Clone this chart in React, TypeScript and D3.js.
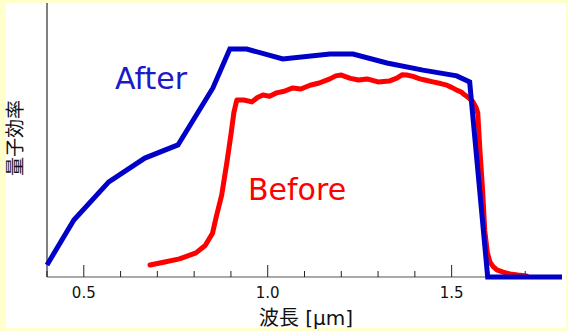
import React from 'react';
import * as d3 from 'd3';

// wavelength [um] / quantum efficiency (arbitrary %)
const afterX = [0.4, 0.473, 0.568, 0.666, 0.756, 0.851, 0.897, 0.943, 1.041, 1.169, 1.232, 1.324, 1.422, 1.514, 1.549, 1.598, 1.8];
const afterY = [4.4, 20.8, 34.7, 43.4, 48.2, 69, 83.2, 83.2, 79.6, 81.4, 81.4, 78.1, 75.5, 73.4, 71.2, 0, 0];

const beforeX = [0.68, 0.72, 0.76, 0.805, 0.83, 0.85, 0.86, 0.875, 0.89, 0.9, 0.908, 0.916, 0.935, 0.957, 0.972, 0.987, 1.005, 1.024, 1.045, 1.068, 1.09, 1.115, 1.14, 1.169, 1.185, 1.2, 1.225, 1.247, 1.27, 1.3, 1.33, 1.351, 1.365, 1.378, 1.395, 1.414, 1.43, 1.449, 1.47, 1.487, 1.5, 1.514, 1.526, 1.536, 1.548, 1.558, 1.566, 1.571, 1.577, 1.584, 1.59, 1.597, 1.604, 1.613, 1.623, 1.64, 1.658, 1.68, 1.704];
const beforeY = [4.4, 5.5, 6.6, 8.8, 11.5, 16, 21.9, 30, 42.7, 52, 60, 64.6, 64.6, 63.9, 65.5, 66.4, 66, 67.2, 67.8, 69, 68.6, 70, 70.8, 72.3, 73.4, 73.7, 72.5, 71.9, 72.3, 71.2, 71.5, 72.6, 73.8, 73.7, 73.2, 72.3, 71.8, 71.2, 70.6, 70, 69.2, 68.2, 67.5, 66.4, 65.2, 63.9, 62, 59.9, 46, 32, 17, 9, 5.5, 3.8, 2.6, 1.8, 1.1, 0.7, 0.4];

const xTicks = [0.5, 1.0, 1.5];
const minorTicks = [0.4, 0.5, 0.6, 0.7, 0.8, 0.9, 1.0, 1.1, 1.2, 1.3, 1.4, 1.5, 1.6, 1.7];

const W = 568;
const H = 331;

export default function App() {
  const x = d3.scaleLinear().domain([0.4, 1.8]).range([47, 562]);
  const y = d3.scaleLinear().domain([0, 100]).range([277, 3]);

  const line = d3
    .line<[number, number]>()
    .x((d) => x(d[0]))
    .y((d) => y(d[1]));
  const afterPts = afterX.map((v, i) => [v, afterY[i]] as [number, number]);
  const beforePts = beforeX.map((v, i) => [v, beforeY[i]] as [number, number]);

  const y0 = y(0);
  const tickFont = 'DejaVu Sans, Verdana, sans-serif';
  const jpFont = '"DejaVu Sans", "Noto Sans CJK JP", sans-serif';

  return (
    <svg width={W} height={H} style={{ position: 'absolute', left: 0, top: 0, display: 'block' }}>
      <rect x={0} y={0} width={W} height={H} fill="#ffffcc" />
      <rect x={6} y={3} width={560} height={325} fill="#ffffff" />

      {/* axes */}
      <line x1={x(0.4)} x2={x(0.4)} y1={3} y2={y0} stroke="#000" strokeWidth={1} />
      <line x1={x(0.4)} x2={x(1.8)} y1={y0} y2={y0} stroke="#555" strokeWidth={1.2} />
      {minorTicks.map((t) => (
        <line
          key={t}
          x1={x(t)}
          x2={x(t)}
          y1={y0}
          y2={y0 - (xTicks.some((m) => Math.abs(m - t) < 1e-6) ? 12 : 6)}
          stroke="#222"
          strokeWidth={1}
        />
      ))}
      {xTicks.map((t) => (
        <text key={t} x={x(t)} y={298} textAnchor="middle" fontFamily={tickFont} fontSize={15} fill="#111">
          {d3.format('.1f')(t)}
        </text>
      ))}

      <text x={306} y={325} textAnchor="middle" fontFamily={jpFont} fontSize={20} fill="#111">
        波長 [μm]
      </text>
      <text
        transform={`translate(22,138) rotate(-90)`}
        textAnchor="middle"
        fontFamily={jpFont}
        fontSize={19}
        fill="#111"
      >
        量子効率
      </text>

      {/* series */}
      <path d={line(beforePts) || ''} fill="none" stroke="#ff0000" strokeWidth={5} strokeLinejoin="round" strokeLinecap="round" />
      <path d={line(afterPts) || ''} fill="none" stroke="#0000c8" strokeWidth={5} strokeLinejoin="miter" />

      <text x={115} y={89} fontFamily={tickFont} fontSize={30} fill="#1a1ac8">
        After
      </text>
      <text x={248} y={200} fontFamily={tickFont} fontSize={30} fill="#ff0000">
        Before
      </text>
    </svg>
  );
}
